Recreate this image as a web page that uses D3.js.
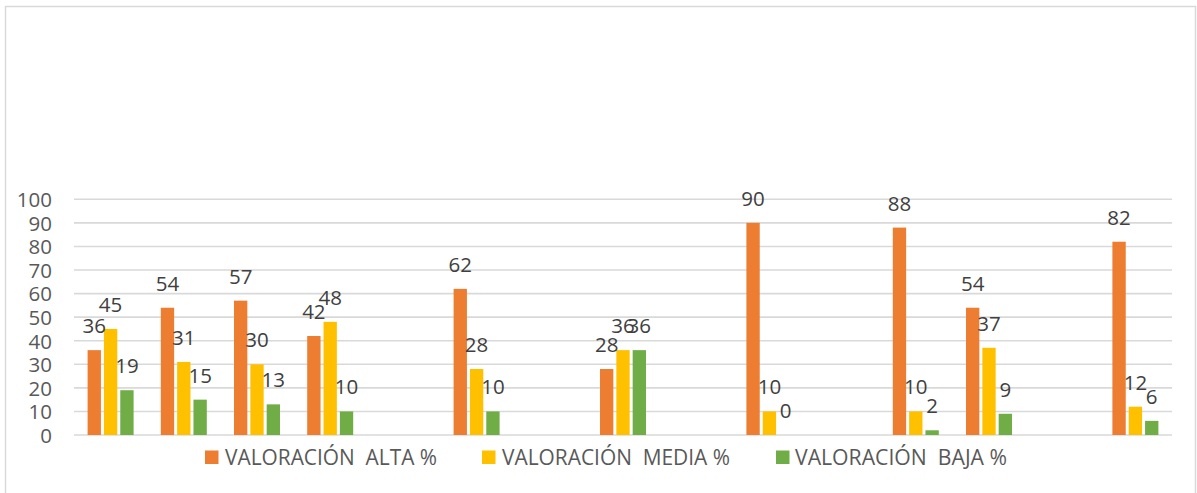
<!DOCTYPE html>
<html>
<head>
<meta charset="utf-8">
<script src="https://cdn.jsdelivr.net/npm/d3@7/dist/d3.min.js"></script>
<style>
  html, body { margin: 0; padding: 0; background: #fff; }
  svg { display: block; }
</style>
</head>
<body>
<svg id="chart" width="1197" height="493"></svg>
<script>
// ---- data ----
const categories = ["1","2","3","4","5","6","7","8","9","10","11","12","13","14","15"];
const seriesNames = ["VALORACIÓN  ALTA %", "VALORACIÓN  MEDIA %", "VALORACIÓN  BAJA %"];
const alta  = [36, 54, 57, 42, null, 62, null, 28, null, 90, null, 88, 54, null, 82];
const media = [45, 31, 30, 48, null, 28, null, 36, null, 10, null, 10, 37, null, 12];
const baja  = [19, 15, 13, 10, null, 10, null, 36, null, 0, null, 2, 9, null, 6];
const yTicks = [0, 10, 20, 30, 40, 50, 60, 70, 80, 90, 100];
const colors = ["#ED7D31", "#FFC000", "#70AD47"];

const seriesValues = [alta, media, baja];

const svg = d3.select("#chart");
const W = 1197, H = 493;

// frame
svg.append("rect")
  .attr("x", 5.5).attr("y", 6.5)
  .attr("width", 1190).attr("height", 500)
  .attr("fill", "none").attr("stroke", "#d9d9d9").attr("stroke-width", 1.5);

const plot = { left: 74, right: 1172, top: 199.3, bottom: 435 };

const x = d3.scaleBand().domain(categories).range([plot.left, plot.right]).padding(0);
const inner = d3.scaleBand().domain(seriesNames).range([-23, 23]).paddingInner(0.184).paddingOuter(0);
const y = d3.scaleLinear().domain([0, 100]).range([plot.bottom, plot.top]);

// gridlines
svg.append("g").selectAll("line").data(yTicks).join("line")
  .attr("x1", plot.left).attr("x2", plot.right)
  .attr("y1", d => y(d)).attr("y2", d => y(d))
  .attr("stroke", "#d9d9d9").attr("stroke-width", 1.6);

// y axis labels
const yAxis = d3.axisLeft(y).tickValues(yTicks).tickSize(0).tickPadding(0);
const yg = svg.append("g").attr("transform", "translate(52,0)").call(yAxis);
yg.select(".domain").remove();
yg.selectAll("text")
  .attr("font-family", "'Open Sans', sans-serif")
  .attr("font-size", 20.5)
  .attr("fill", "#595959")
  .attr("dy", "0.36em");

// bars
const rows = [];
seriesValues.forEach((vals, si) => {
  vals.forEach((v, ci) => {
    if (v !== null) rows.push({ s: seriesNames[si], si, c: categories[ci], v });
  });
});

const cx = d => x(d.c) + x.bandwidth() / 2 + inner(d.s);

svg.append("g").selectAll("rect").data(rows).join("rect")
  .attr("x", d => cx(d))
  .attr("y", d => y(d.v))
  .attr("width", inner.bandwidth())
  .attr("height", d => y(0) - y(d.v))
  .attr("fill", d => colors[d.si]);

// data labels
svg.append("g").selectAll("text").data(rows).join("text")
  .attr("x", d => cx(d) + inner.bandwidth() / 2)
  .attr("y", d => y(d.v) - 17)
  .attr("text-anchor", "middle")
  .attr("font-family", "'Open Sans', sans-serif")
  .attr("font-size", 20.5)
  .attr("fill", "#404040")
  .text(d => d.v);

// legend
const legendPos = [
  { sq: 205, tx: 225, tw: 212 },
  { sq: 482, tx: 502, tw: 228 },
  { sq: 776, tx: 795, tw: 212 }
];
const lg = svg.append("g");
seriesNames.forEach((name, i) => {
  const p = legendPos[i];
  lg.append("rect")
    .attr("x", p.sq).attr("y", 450.5)
    .attr("width", 13.5).attr("height", 13.5)
    .attr("fill", colors[i]);
  lg.append("text")
    .attr("x", p.tx).attr("y", 465)
    .attr("font-family", "'Open Sans', sans-serif")
    .attr("font-size", 21)
    .attr("fill", "#595959")
    .attr("textLength", p.tw)
    .attr("lengthAdjust", "spacingAndGlyphs")
    .style("white-space", "pre")
    .text(name);
});
</script>
</body>
</html>
